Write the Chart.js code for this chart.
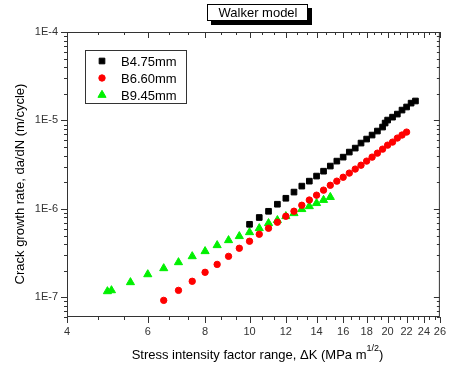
<!DOCTYPE html>
<html>
<head>
<meta charset="utf-8">
<script src="https://cdn.jsdelivr.net/npm/chart.js@4.4.1/dist/chart.umd.min.js"></script>
<style>
  html, body { margin: 0; padding: 0; background: #fff; }
  canvas { display: block; }
</style>
</head>
<body>
<canvas id="graficoWalker" width="454" height="365"></canvas>
<script>
// ΔK (MPa m^1/2) and da/dN (m/cycle)
const kB475 = [10, 10.5, 11, 11.5, 12, 12.5, 13, 13.5, 14, 14.5, 15, 15.5, 16, 16.5, 17, 17.5, 18, 18.5, 19, 19.5, 19.75, 20, 20.5, 21, 21.5, 22, 22.5, 23];
const rateB475 = [6.7e-7, 8.0e-7, 9.4e-7, 1.13e-6, 1.32e-6, 1.55e-6, 1.81e-6, 2.06e-6, 2.35e-6, 2.67e-6, 3.05e-6, 3.47e-6, 3.85e-6, 4.39e-6, 4.87e-6, 5.55e-6, 6.16e-6, 6.84e-6, 7.59e-6, 8.42e-6, 9.35e-6, 1.01e-5, 1.09e-5, 1.18e-5, 1.31e-5, 1.42e-5, 1.57e-5, 1.66e-5];

const kB660 = [6.5, 7, 7.5, 8, 8.5, 9, 9.5, 10, 10.5, 11, 11.5, 12, 12.5, 13, 13.5, 14, 14.5, 15, 15.5, 16, 16.5, 17, 17.5, 18, 18.5, 19, 19.5, 20, 20.5, 21, 21.5, 22];
const rateB660 = [9.25e-8, 1.2e-7, 1.52e-7, 1.92e-7, 2.36e-7, 2.91e-7, 3.59e-7, 4.31e-7, 5.17e-7, 6.04e-7, 7.07e-7, 8.26e-7, 9.42e-7, 1.10e-6, 1.26e-6, 1.43e-6, 1.63e-6, 1.85e-6, 2.06e-6, 2.28e-6, 2.54e-6, 2.82e-6, 3.12e-6, 3.47e-6, 3.85e-6, 4.27e-6, 4.74e-6, 5.26e-6, 5.69e-6, 6.32e-6, 6.84e-6, 7.39e-6];

const kB945 = [4.9, 5, 5.5, 6, 6.5, 7, 7.5, 8, 8.5, 9, 9.5, 10, 10.5, 11, 11.5, 12, 12.5, 13, 13.5, 14, 14.5, 15];
const rateB945 = [1.17e-7, 1.2e-7, 1.48e-7, 1.82e-7, 2.13e-7, 2.49e-7, 2.91e-7, 3.32e-7, 3.88e-7, 4.42e-7, 4.91e-7, 5.44e-7, 6.04e-7, 6.89e-7, 7.45e-7, 8.26e-7, 8.93e-7, 9.92e-7, 1.07e-6, 1.16e-6, 1.26e-6, 1.36e-6];

const kTicks = [4, 6, 8, 10, 12, 14, 16, 18, 20, 22, 24, 26];
const rateTicks = [1e-7, 1e-6, 1e-5, 1e-4];
const rateTickLabels = ['1E-7', '1E-6', '1E-5', '1E-4'];

const seriesLabels = ['B4.75mm', 'B6.60mm', 'B9.45mm'];
const chartTitle = 'Walker model';
const xTitle = 'Stress intensity factor range, \u0394K (MPa m';
const xTitleSup = '1/2';
const yTitle = 'Crack growth rate, da/dN (m/cycle)';

const FONT = '"Liberation Sans", Arial, sans-serif';

function toPoints(xs, ys) {
    return xs.map((v, i) => ({ x: v, y: ys[i] }));
}

// Frame, inward/outward ticks, title box, legend and axis titles
const marcoWalker = {
    id: 'marcoWalker',
    afterDatasetsDraw(chart) {
        const { ctx, chartArea: a, scales: { x, y } } = chart;
        ctx.save();
        ctx.strokeStyle = '#333';
        ctx.lineWidth = 1;
        ctx.beginPath();

        // x ticks: bottom outward, top inward
        const tickX = (v, len) => {
            const px = Math.round(x.getPixelForValue(v)) + 0.5;
            ctx.moveTo(px, a.bottom); ctx.lineTo(px, a.bottom + len);
            ctx.moveTo(px, a.top); ctx.lineTo(px, a.top + len);
        };
        kTicks.forEach((v, i) => {
            tickX(v, 6);
            if (i < kTicks.length - 1) {
                const step = (kTicks[i + 1] - v) / 3;
                tickX(v + step, 3);
                tickX(v + 2 * step, 3);
            }
        });

        // y ticks: left outward, right inward
        const tickY = (v, len) => {
            const py = Math.round(y.getPixelForValue(v)) + 0.5;
            ctx.moveTo(a.left, py); ctx.lineTo(a.left - len, py);
            ctx.moveTo(a.right, py); ctx.lineTo(a.right - len, py);
        };
        rateTicks.forEach(v => tickY(v, 6));
        for (let e = -8; e <= -5; e++) {
            for (let m = 2; m <= 9; m++) {
                const v = m * Math.pow(10, e);
                if (v >= y.min && v <= y.max) tickY(v, 3);
            }
        }
        ctx.stroke();

        ctx.strokeRect(a.left + 0.5, a.top + 0.5, a.width - 1, a.height - 1);

        // title box with shadow
        ctx.fillStyle = '#000';
        ctx.fillRect(211, 8, 101, 17);
        ctx.fillStyle = '#fff';
        ctx.fillRect(207, 4, 101, 17);
        ctx.strokeStyle = '#000';
        ctx.strokeRect(207.5, 4.5, 100, 16);
        ctx.fillStyle = '#000';
        ctx.font = '13px ' + FONT;
        ctx.textAlign = 'center';
        ctx.textBaseline = 'middle';
        ctx.fillText(chartTitle, 258, 13);

        // legend
        ctx.strokeStyle = '#333';
        ctx.strokeRect(85.5, 50.5, 101, 53);
        ctx.textAlign = 'left';
        chart.data.datasets.forEach((ds, i) => {
            const cy = 61 + i * 17;
            ctx.fillStyle = ds.backgroundColor;
            ctx.strokeStyle = ds.borderColor;
            ctx.lineWidth = 1;
            Chart.helpers.drawPoint(ctx, { pointStyle: ds.pointStyle, radius: ds.pointRadius, rotation: 0, borderWidth: 1 }, 102, cy);
            ctx.fillStyle = '#000';
            ctx.fillText(ds.label, 121, cy + 1);
        });

        // y title
        ctx.save();
        ctx.translate(20, 184);
        ctx.rotate(-Math.PI / 2);
        ctx.textAlign = 'center';
        ctx.fillStyle = '#000';
        ctx.font = '13px ' + FONT;
        ctx.fillText(yTitle, 0, 0);
        ctx.restore();

        // x title with superscript
        ctx.font = '13px ' + FONT;
        const w1 = ctx.measureText(xTitle).width;
        const w3 = ctx.measureText(')').width;
        ctx.font = '9px ' + FONT;
        const w2 = ctx.measureText(xTitleSup).width;
        let sx = 257.5 - (w1 + w2 + w3) / 2;
        ctx.textAlign = 'left';
        ctx.fillStyle = '#000';
        ctx.font = '13px ' + FONT;
        ctx.fillText(xTitle, sx, 355);
        ctx.font = '9px ' + FONT;
        ctx.fillText(xTitleSup, sx + w1, 349);
        ctx.font = '13px ' + FONT;
        ctx.fillText(')', sx + w1 + w2, 355);

        ctx.restore();
    }
};

const ctx = document.getElementById('graficoWalker').getContext('2d');
const graficoWalker = new Chart(ctx, {
    type: 'scatter',
    data: {
        datasets: [
            {
                label: seriesLabels[0],
                data: toPoints(kB475, rateB475),
                pointStyle: 'rect',
                pointRadius: 4,
                backgroundColor: '#000000',
                borderColor: '#000000',
                borderWidth: 1
            },
            {
                label: seriesLabels[1],
                data: toPoints(kB660, rateB660),
                pointStyle: 'circle',
                pointRadius: 3.2,
                backgroundColor: '#ff0000',
                borderColor: '#ff0000',
                borderWidth: 1
            },
            {
                label: seriesLabels[2],
                data: toPoints(kB945, rateB945),
                pointStyle: 'triangle',
                pointRadius: 4.7,
                backgroundColor: '#00f000',
                borderColor: '#00f000',
                borderWidth: 1
            }
        ]
    },
    options: {
        responsive: false,
        animation: false,
        layout: { padding: { top: 32, right: 6, left: 0, bottom: 0 } },
        plugins: {
            legend: { display: false },
            title: { display: false },
            tooltip: { enabled: false }
        },
        scales: {
            x: {
                type: 'logarithmic',
                min: 4,
                max: 26,
                grid: { display: false, drawTicks: false },
                border: { display: false },
                afterBuildTicks: s => { s.ticks = kTicks.map(v => ({ value: v })); },
                afterFit: s => { s.height = 48; },
                ticks: {
                    autoSkip: false,
                    maxRotation: 0,
                    padding: 8,
                    color: '#333',
                    font: { family: FONT, size: 11 },
                    callback: v => String(v)
                }
            },
            y: {
                type: 'logarithmic',
                min: 6e-8,
                max: 1e-4,
                grid: { display: false, drawTicks: false },
                border: { display: false },
                afterBuildTicks: s => { s.ticks = rateTicks.map(v => ({ value: v })); },
                afterFit: s => { s.width = 67; },
                ticks: {
                    autoSkip: false,
                    padding: 9,
                    color: '#333',
                    font: { family: FONT, size: 11 },
                    callback: v => rateTickLabels[rateTicks.indexOf(v)] ?? ''
                }
            }
        }
    },
    plugins: [marcoWalker]
});
</script>
</body>
</html>
